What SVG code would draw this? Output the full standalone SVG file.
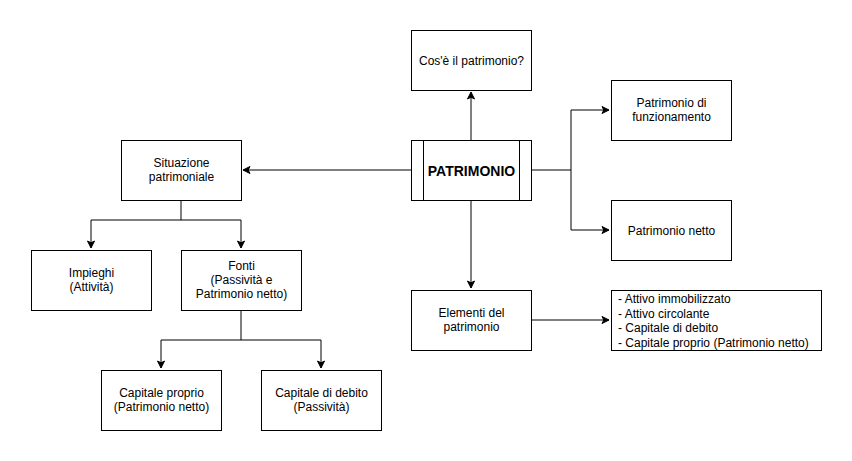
<svg xmlns="http://www.w3.org/2000/svg" width="852" height="461" viewBox="0 0 852 461">
<defs>
<marker id="arr" markerWidth="10" markerHeight="10" refX="8" refY="5" orient="auto" markerUnits="userSpaceOnUse">
<path d="M1,1.5 L8,5 L1,8.5 L2.8,5 Z" fill="#000" stroke="#000" stroke-width="1"/>
</marker>
<style>
.box{fill:#fff;stroke:#000;stroke-width:1}
.t{font-family:"Liberation Sans",Arial,sans-serif;font-size:12px;fill:#000;text-anchor:middle}
.l{font-family:"Liberation Sans",Arial,sans-serif;font-size:12px;fill:#000}
.b{font-family:"Liberation Sans",Arial,sans-serif;font-size:14px;font-weight:bold;fill:#000;text-anchor:middle}
.c{fill:none;stroke:#000;stroke-width:1}
</style>
</defs>
<rect width="852" height="461" fill="#fff"/>
<g id="connectors">
<path class="c" d="M471,140 V92" marker-end="url(#arr)"/>
<path class="c" d="M411,170 H243" marker-end="url(#arr)"/>
<path class="c" d="M531,170 H571 V110 H609" marker-end="url(#arr)"/>
<path class="c" d="M571,170 V230 H609" marker-end="url(#arr)"/>
<path class="c" d="M471,200 V288" marker-end="url(#arr)"/>
<path class="c" d="M531,320 H609" marker-end="url(#arr)"/>
<path class="c" d="M181,200 V220 H91 V248" marker-end="url(#arr)"/>
<path class="c" d="M181,220 H241 V248" marker-end="url(#arr)"/>
<path class="c" d="M241,310 V340 H161 V368" marker-end="url(#arr)"/>
<path class="c" d="M241,340 H321 V368" marker-end="url(#arr)"/>
</g>
<g id="cosee">
<rect class="box" x="411.5" y="30.5" width="120" height="60"/>
<text class="t" x="471.5" y="64.5">Cos'è il patrimonio?</text>
</g>
<g id="patrimonio">
<rect class="box" x="411.5" y="140.5" width="120" height="60"/>
<path class="c" d="M423.5,140.5 V200.5 M519.5,140.5 V200.5"/>
<text class="b" x="471.5" y="175.5">PATRIMONIO</text>
</g>
<g id="situazione">
<rect class="box" x="121.5" y="140.5" width="120" height="60"/>
<text class="t" x="181.5" y="167">Situazione</text>
<text class="t" x="181.5" y="181">patrimoniale</text>
</g>
<g id="impieghi">
<rect class="box" x="31.5" y="250.5" width="120" height="60"/>
<text class="t" x="91.5" y="277">Impieghi</text>
<text class="t" x="91.5" y="291">(Attività)</text>
</g>
<g id="fonti">
<rect class="box" x="181.5" y="250.5" width="120" height="60"/>
<text class="t" x="241.5" y="270">Fonti</text>
<text class="t" x="241.5" y="284">(Passività e</text>
<text class="t" x="241.5" y="298">Patrimonio netto)</text>
</g>
<g id="capitale-proprio">
<rect class="box" x="101.5" y="370.5" width="120" height="60"/>
<text class="t" x="161.5" y="397">Capitale proprio</text>
<text class="t" x="161.5" y="411">(Patrimonio netto)</text>
</g>
<g id="capitale-debito">
<rect class="box" x="261.5" y="370.5" width="120" height="60"/>
<text class="t" x="321.5" y="397">Capitale di debito</text>
<text class="t" x="321.5" y="411">(Passività)</text>
</g>
<g id="funzionamento">
<rect class="box" x="611.5" y="80.5" width="120" height="60"/>
<text class="t" x="671.5" y="107">Patrimonio di</text>
<text class="t" x="671.5" y="121">funzionamento</text>
</g>
<g id="netto">
<rect class="box" x="611.5" y="200.5" width="120" height="60"/>
<text class="t" x="671.5" y="234.5">Patrimonio netto</text>
</g>
<g id="elementi">
<rect class="box" x="411.5" y="290.5" width="120" height="60"/>
<text class="t" x="471.5" y="317">Elementi del</text>
<text class="t" x="471.5" y="331">patrimonio</text>
</g>
<g id="lista">
<rect class="box" x="611.5" y="290.5" width="210" height="60"/>
<text class="l" x="618" y="303">- Attivo immobilizzato</text>
<text class="l" x="618" y="317.5">- Attivo circolante</text>
<text class="l" x="618" y="332">- Capitale di debito</text>
<text class="l" x="618" y="346.5">- Capitale proprio (Patrimonio netto)</text>
</g>
</svg>
